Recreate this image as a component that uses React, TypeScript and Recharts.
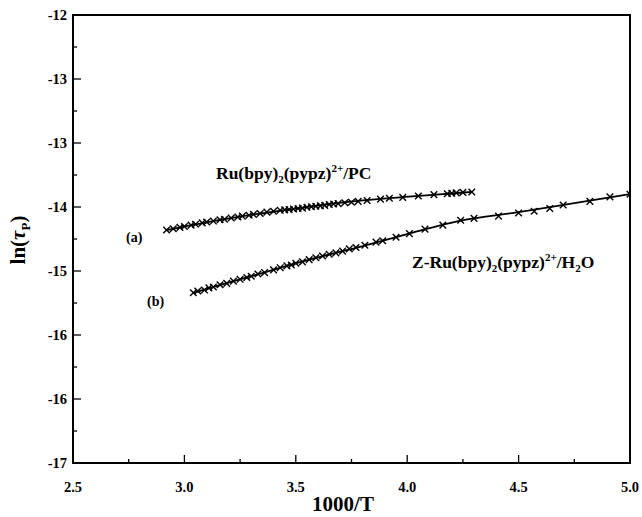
import { ScatterChart, Scatter, XAxis, YAxis, ReferenceArea } from 'recharts';

// series (a): Ru(bpy)2(pypz)2+ in PC
const aX = [2.92, 2.95, 2.98, 3.0, 3.03, 3.05, 3.08, 3.1, 3.13, 3.16, 3.18, 3.21, 3.24, 3.26, 3.29, 3.31, 3.34, 3.37, 3.4, 3.43, 3.45, 3.47, 3.49, 3.51, 3.53, 3.55, 3.57, 3.59, 3.61, 3.63, 3.65, 3.67, 3.69, 3.72, 3.75, 3.78, 3.82, 3.88, 3.92, 3.98, 4.05, 4.12, 4.18, 4.2, 4.22, 4.25, 4.29];
const aY = [-14.4, -14.385, -14.37, -14.36, -14.345, -14.335, -14.32, -14.31, -14.3, -14.285, -14.28, -14.265, -14.255, -14.245, -14.235, -14.225, -14.215, -14.2, -14.19, -14.18, -14.175, -14.17, -14.165, -14.16, -14.155, -14.145, -14.14, -14.135, -14.13, -14.125, -14.115, -14.11, -14.105, -14.095, -14.09, -14.08, -14.07, -14.055, -14.045, -14.035, -14.02, -14.005, -13.995, -13.99, -13.985, -13.98, -13.975];
const aFitX = [2.92, 3.2, 3.5, 3.8, 4.1, 4.29];
const aFitY = [-14.4, -14.27, -14.16, -14.07, -14.01, -13.975];

// series (b): Z-Ru(bpy)2(pypz)2+ in H2O
const bX = [3.04, 3.06, 3.09, 3.11, 3.13, 3.16, 3.19, 3.22, 3.25, 3.28, 3.3, 3.33, 3.36, 3.4, 3.43, 3.46, 3.48, 3.5, 3.53, 3.56, 3.59, 3.62, 3.65, 3.68, 3.71, 3.74, 3.77, 3.81, 3.86, 3.89, 3.95, 4.01, 4.08, 4.16, 4.24, 4.3, 4.41, 4.5, 4.57, 4.64, 4.7, 4.82, 4.91, 5.0];
const bY = [-15.1, -15.08, -15.07, -15.045, -15.035, -15.01, -14.995, -14.97, -14.95, -14.93, -14.915, -14.89, -14.875, -14.845, -14.82, -14.8, -14.79, -14.77, -14.755, -14.73, -14.71, -14.69, -14.67, -14.655, -14.635, -14.61, -14.595, -14.57, -14.535, -14.52, -14.48, -14.44, -14.39, -14.345, -14.29, -14.27, -14.245, -14.21, -14.19, -14.16, -14.12, -14.08, -14.03, -14.0];
const bFitX = [3.04, 3.3, 3.56, 3.8, 4.0, 4.24, 4.5, 4.75, 5.0];
const bFitY = [-15.1, -14.915, -14.73, -14.58, -14.445, -14.295, -14.2, -14.1, -14.0];

const xMajor = [2.5, 3.0, 3.5, 4.0, 4.5, 5.0];
const xMinor = [2.75, 3.25, 3.75, 4.25, 4.75];
const xTickLabels = ['2.5', '3.0', '3.5', '4.0', '4.5', '5.0'];
const yMajor = [-17, -16.2857, -15.5714, -14.8571, -14.1429, -13.4286, -12.7143, -12];
const yMinor = [-16.6429, -15.9286, -15.2143, -14.5, -13.7857, -13.0714, -12.3571];
const yTickLabels = ['-17', '-16', '-16', '-15', '-14', '-13', '-13', '-12'];

const zip = (xs: number[], ys: number[]) => xs.map((x, i) => ({ x, y: ys[i] }));

const FONT = '"Liberation Serif", "Times New Roman", serif';

const Cross = (props: any) => {
  const { cx, cy } = props;
  const s = 3.3;
  return (
    <path
      d={`M${cx - s},${cy - s}L${cx + s},${cy + s}M${cx - s},${cy + s}L${cx + s},${cy - s}`}
      stroke="#000"
      strokeWidth={1.4}
      fill="none"
    />
  );
};

const XTick = (props: any) => {
  const { x, y, payload } = props;
  const i = xMajor.indexOf(payload.value);
  return (
    <g>
      <line x1={x} x2={x} y1={y} y2={y - (i >= 0 ? 8 : 4)} stroke="#000" strokeWidth={1.3} />
      {i >= 0 && (
        <text x={x} y={y + 29} textAnchor="middle" fontFamily={FONT} fontWeight="bold" fontSize={14.5} fill="#000">
          {xTickLabels[i]}
        </text>
      )}
    </g>
  );
};

const YTick = (props: any) => {
  const { x, y, payload } = props;
  const i = yMajor.findIndex((v) => Math.abs(v - payload.value) < 1e-3);
  return (
    <g>
      <line x1={x} x2={x + (i >= 0 ? 8 : 4)} y1={y} y2={y} stroke="#000" strokeWidth={1.3} />
      {i >= 0 && (
        <text x={x - 6} y={y + 5} textAnchor="end" fontFamily={FONT} fontWeight="bold" fontSize={14.5} fill="#000">
          {yTickLabels[i]}
        </text>
      )}
    </g>
  );
};

const label: React.CSSProperties = {
  position: 'absolute',
  fontFamily: FONT,
  fontWeight: 'bold',
  color: '#000',
  whiteSpace: 'nowrap',
  lineHeight: 1,
};
const small: React.CSSProperties = { fontSize: 11 };

export default function App() {
  return (
    <div style={{ position: 'absolute', left: 0, top: 0, width: 642, height: 517, background: '#fff' }}>
      <ScatterChart width={642} height={517} margin={{ top: 15, right: 12, bottom: 0, left: 0 }}>
        <XAxis
          type="number"
          dataKey="x"
          domain={[2.5, 5]}
          ticks={[...xMajor, ...xMinor].sort((p, q) => p - q)}
          tick={<XTick />}
          tickLine={false}
          tickSize={0}
          tickMargin={0}
          axisLine={false}
          height={54}
          allowDataOverflow
        />
        <YAxis
          type="number"
          dataKey="y"
          domain={[-17, -12]}
          ticks={[...yMajor, ...yMinor].sort((p, q) => p - q)}
          tick={<YTick />}
          tickLine={false}
          tickSize={0}
          tickMargin={0}
          axisLine={false}
          width={73}
          allowDataOverflow
        />
        <ReferenceArea x1={2.5} x2={5} y1={-17} y2={-12} fill="none" stroke="#000" strokeWidth={2} ifOverflow="visible" />
        <Scatter
          data={zip(aFitX, aFitY)}
          line={{ stroke: '#000', strokeWidth: 1.8 }}
          lineJointType="monotoneX"
          shape={() => null}
          isAnimationActive={false}
        />
        <Scatter
          data={zip(bFitX, bFitY)}
          line={{ stroke: '#000', strokeWidth: 1.8 }}
          lineJointType="monotoneX"
          shape={() => null}
          isAnimationActive={false}
        />
        <Scatter data={zip(aX, aY)} shape={<Cross />} isAnimationActive={false} />
        <Scatter data={zip(bX, bY)} shape={<Cross />} isAnimationActive={false} />
      </ScatterChart>

      <div style={{ ...label, left: 216, top: 163, fontSize: 17.5 }}>
        Ru(bpy)<sub style={small}>2</sub>(pypz)<sup style={small}>2+</sup>/PC
      </div>
      <div style={{ ...label, left: 412, top: 252, fontSize: 17.5 }}>
        Z-Ru(bpy)<sub style={small}>2</sub>(pypz)<sup style={small}>2+</sup>/H<sub style={small}>2</sub>O
      </div>
      <div style={{ ...label, left: 126, top: 231, fontSize: 14 }}>(a)</div>
      <div style={{ ...label, left: 147, top: 295, fontSize: 14 }}>(b)</div>
      <div style={{ ...label, left: 0, width: 686, top: 494, fontSize: 21, textAlign: 'center' }}>1000/T</div>
      <div
        style={{
          ...label,
          left: 20,
          top: 240,
          fontSize: 21,
          transform: 'translate(-50%, -50%) rotate(-90deg)',
        }}
      >
        ln(<span style={{ fontStyle: 'italic' }}>τ</span>
        <sub style={{ fontSize: 13 }}>P</sub>)
      </div>
    </div>
  );
}
